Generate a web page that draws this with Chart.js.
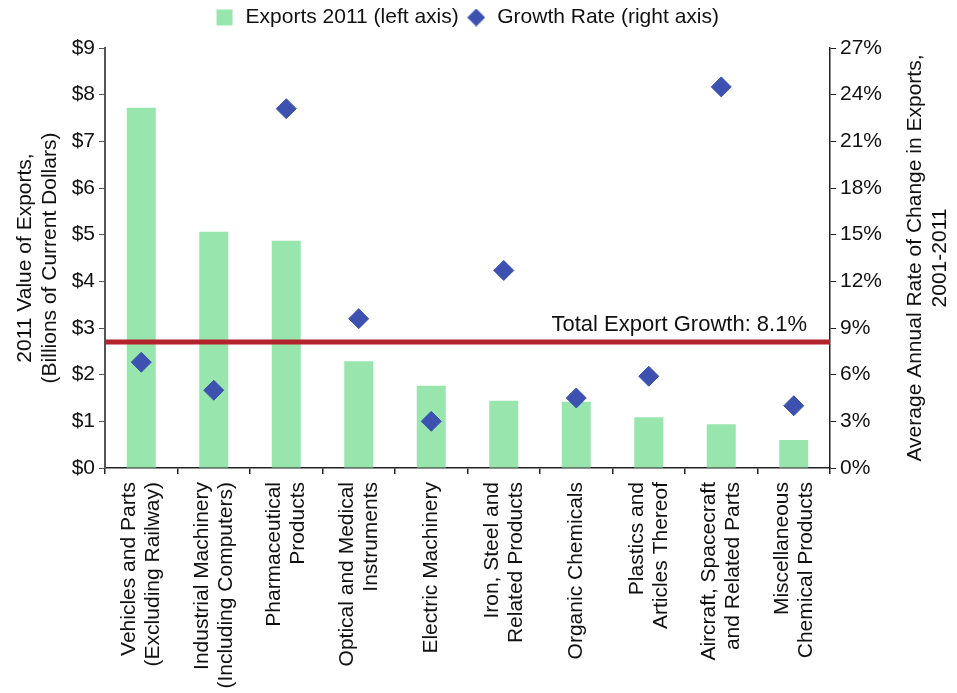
<!DOCTYPE html>
<html>
<head>
<meta charset="utf-8">
<script src="https://cdn.jsdelivr.net/npm/chart.js@4"></script>
<style>
  html, body { margin: 0; padding: 0; background: #fff; }
  #wrap { width: 957px; height: 693px; position: relative; }
</style>
</head>
<body>
<div id="wrap"><canvas id="exportChart"></canvas></div>
<script>
const FONT = '"Liberation Sans", Arial, Helvetica, sans-serif';

// Top export categories
const categories = [
  ['Vehicles and Parts', '(Excluding Railway)'],
  ['Industrial Machinery', '(Including Computers)'],
  ['Pharmaceutical', 'Products'],
  ['Optical and Medical', 'Instruments'],
  ['Electric Machinery'],
  ['Iron, Steel and', 'Related Products'],
  ['Organic Chemicals'],
  ['Plastics and', 'Articles Thereof'],
  ['Aircraft, Spacecraft', 'and Related Parts'],
  ['Miscellaneous', 'Chemical Products']
];

// 2011 exports, billions of dollars
const exports2011 = [7.72, 5.06, 4.87, 2.29, 1.76, 1.44, 1.42, 1.09, 0.94, 0.60];

// average annual growth 2001-2011, percent
const growthRate = [6.8, 5.0, 23.1, 9.6, 3.0, 12.7, 4.5, 5.9, 24.5, 4.0];

const totalGrowth = 8.1;

const leftTitle = ['2011 Value of Exports,', '(Billions of Current Dollars)'];
const rightTitle = ['Average Annual Rate of Change in Exports,', '2001-2011'];

const GREEN = '#98e6ad';
const BLUE = '#3d52b0';
const RED = '#b3232d';

// small diamond used as the legend marker
const legendDiamond = document.createElement('canvas');
legendDiamond.width = 18;
legendDiamond.height = 18;
(() => {
  const c = legendDiamond.getContext('2d');
  c.fillStyle = BLUE;
  c.beginPath();
  c.moveTo(9, 0);
  c.lineTo(18, 9);
  c.lineTo(9, 18);
  c.lineTo(0, 9);
  c.closePath();
  c.fill();
})();

// red reference line, category labels and rotated axis titles
const extrasPlugin = {
  id: 'extras',
  afterDatasetsDraw(chart) {
    const { ctx, chartArea, scales } = chart;
    const y = scales.y1.getPixelForValue(totalGrowth);
    ctx.save();
    ctx.strokeStyle = RED;
    ctx.lineWidth = 5;
    ctx.beginPath();
    ctx.moveTo(chartArea.left, y);
    ctx.lineTo(chartArea.right, y);
    ctx.stroke();

    ctx.fillStyle = '#111';
    ctx.font = '22px ' + FONT;
    ctx.textAlign = 'right';
    ctx.textBaseline = 'alphabetic';
    ctx.fillText('Total Export Growth: ' + totalGrowth + '%', chartArea.right - 23, y - 11);
    ctx.restore();
  },
  afterDraw(chart) {
    const { ctx, chartArea, scales } = chart;
    ctx.save();
    ctx.fillStyle = '#111';

    // category labels, rotated, top-anchored under the axis
    ctx.font = '21px ' + FONT;
    ctx.textAlign = 'right';
    ctx.textBaseline = 'middle';
    const lh = 24;
    categories.forEach((lines, i) => {
      const cx = scales.x.getPixelForValue(i);
      const x0 = cx - (lines.length - 1) * lh / 2;
      lines.forEach((t, j) => {
        ctx.save();
        ctx.translate(x0 + j * lh, chartArea.bottom + 14);
        ctx.rotate(-Math.PI / 2);
        ctx.fillText(t, 0, 0);
        ctx.restore();
      });
    });

    // axis titles
    const midY = (chartArea.top + chartArea.bottom) / 2;
    ctx.textAlign = 'center';
    const drawTitle = (lines, xs) => {
      lines.forEach((t, i) => {
        ctx.save();
        ctx.translate(xs[i], midY);
        ctx.rotate(-Math.PI / 2);
        ctx.fillText(t, 0, 0);
        ctx.restore();
      });
    };
    drawTitle(leftTitle, [25, 50]);
    drawTitle(rightTitle, [915, 940]);
    ctx.restore();
  }
};

new Chart(document.getElementById('exportChart'), {
  type: 'bar',
  data: {
    labels: categories,
    datasets: [
      {
        label: 'Exports 2011 (left axis)',
        data: exports2011,
        backgroundColor: GREEN,
        yAxisID: 'y',
        barPercentage: 0.4,
        categoryPercentage: 1.0,
        pointStyle: 'rect',
        order: 2
      },
      {
        type: 'line',
        label: 'Growth Rate (right axis)',
        data: growthRate,
        yAxisID: 'y1',
        showLine: false,
        pointStyle: 'rectRot',
        pointRadius: 10,
        pointHoverRadius: 10,
        backgroundColor: BLUE,
        borderColor: BLUE,
        order: 1
      }
    ]
  },
  options: {
    responsive: true,
    maintainAspectRatio: false,
    animation: false,
    layout: { padding: { top: 0, right: 24 } },
    plugins: {
      tooltip: { enabled: false },
      legend: {
        position: 'top',
        labels: {
          usePointStyle: true,
          boxHeight: 16,
          color: '#111',
          font: { family: FONT, size: 21 },
          padding: 7,
          sort: (a, b) => a.datasetIndex - b.datasetIndex,
          generateLabels(chart) {
            const items = Chart.defaults.plugins.legend.labels.generateLabels(chart);
            items.forEach(it => {
              if (it.datasetIndex === 1) it.pointStyle = legendDiamond;
            });
            return items;
          }
        }
      }
    },
    scales: {
      x: {
        afterFit(s) { s.height = 225; },
        border: { display: true, color: '#222', width: 1.5 },
        grid: { display: true, drawOnChartArea: false, drawTicks: true, tickLength: 6, color: '#222', lineWidth: 1.5 },
        ticks: { display: false, autoSkip: false }
      },
      // empty spacer between the legend and the plot
      gap: {
        type: 'linear',
        position: 'top',
        display: true,
        grid: { display: false },
        border: { display: false },
        ticks: { display: false },
        afterFit(s) { s.height = Math.max(0, 48 - (s.chart.legend ? s.chart.legend.height : 0)); }
      },
      y: {
        position: 'left',
        min: 0,
        max: 9,
        afterFit(s) { s.width = 105; },
        border: { display: true, color: '#555', width: 2 },
        grid: { display: true, drawOnChartArea: false, drawTicks: true, tickLength: 6, color: '#555' },
        ticks: {
          stepSize: 1,
          color: '#111',
          padding: 4,
          font: { family: FONT, size: 21 },
          callback: v => '$' + v
        }
      },
      y1: {
        position: 'right',
        min: 0,
        max: 27,
        afterFit(s) { s.width = 103; },
        border: { display: true, color: '#222', width: 1.5 },
        grid: { display: true, drawOnChartArea: false, drawTicks: true, tickLength: 6, color: '#222' },
        ticks: {
          stepSize: 3,
          color: '#111',
          padding: 4,
          font: { family: FONT, size: 21 },
          callback: v => v + '%'
        }
      }
    }
  },
  plugins: [extrasPlugin]
});
</script>
</body>
</html>
